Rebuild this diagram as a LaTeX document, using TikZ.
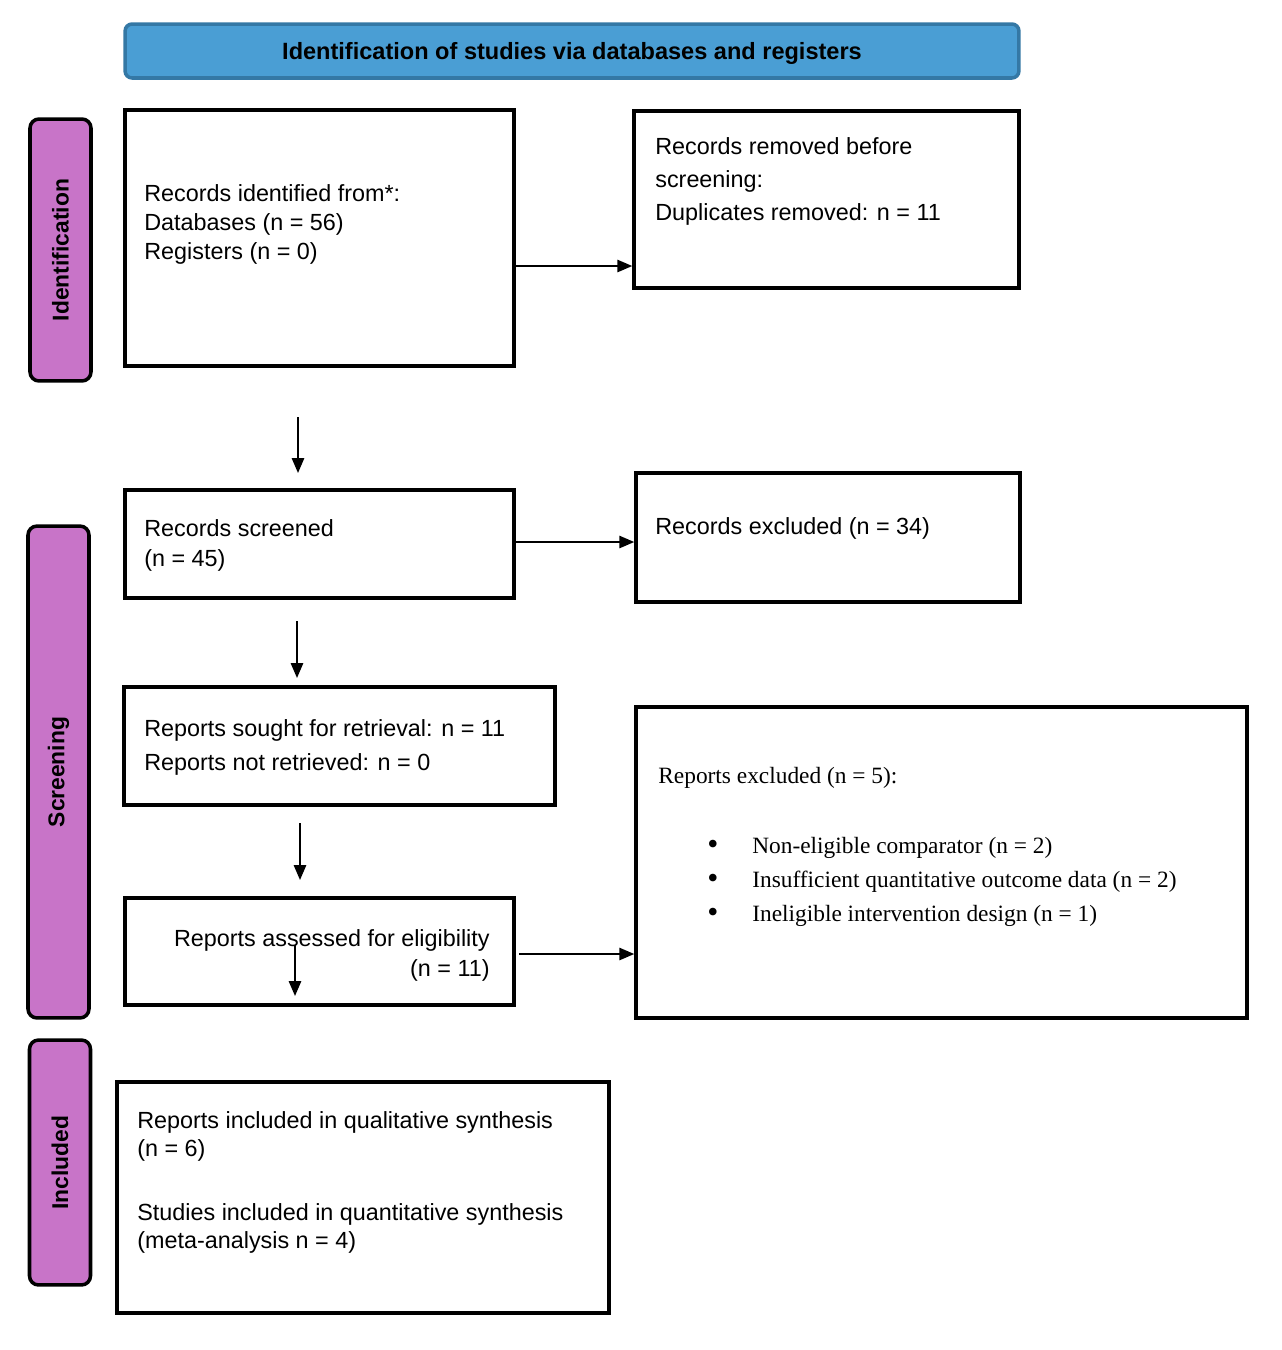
\documentclass[tikz,border=0pt]{standalone}
\usepackage{fontspec}
\setmainfont{Liberation Serif}
\setsansfont{Liberation Sans}
\usetikzlibrary{fit}
\usetikzlibrary{arrows.meta}

\definecolor{barblue}{RGB}{74,158,212}
\definecolor{barrim}{RGB}{52,120,165}
\definecolor{stagepink}{RGB}{200,116,200}
\newcommand{\reasonbul}{\makebox[0.9cm][l]{\raisebox{-0.1ex}{\fontsize{18}{19}\selectfont\textbullet}}}

\begin{document}
\begin{tikzpicture}[x=0.02cm,y=-0.02cm,
 box/.style={draw=black,line width=2pt,inner sep=0pt},
 stage/.style={draw=black,fill=stagepink,line width=2pt,rounded corners=0.18cm,rotate=90,minimum height=1.22cm,inner sep=0pt,font=\sffamily\bfseries\fontsize{13}{15}\selectfont},
 arr/.style={line width=1.1pt,-{Triangle[length=8.5pt,width=7pt]}},
 txt/.style={inner sep=0pt,align=left,font=\sffamily\fontsize{13.3}{16.5}\selectfont},
 rtxt/.style={inner sep=0pt,align=left,font=\rmfamily\fontsize{13.3}{19.3}\selectfont}]
 \useasboundingbox (0,0) rectangle (1282,1350);
 \node[draw=barrim,fill=barblue,line width=2pt,rounded corners=0.14cm,minimum width=17.88cm,minimum height=1.08cm,text depth=0pt,font=\sffamily\bfseries\fontsize{13.4}{15}\selectfont] (title) at (572,51) {Identification of studies via databases and registers};

 \node[stage,minimum width=5.24cm] (stident) at (60.5,250) {Identification};
 \node[stage,minimum width=9.84cm] (stscreen) at (58.5,772) {Screening};
 \node[stage,minimum width=4.9cm] (stincl) at (60,1162.5) {Included};

 \node[box,fit={(125,110) (514,366)}] (ident) {};
 \node[box,fit={(634,111) (1019,288)}] (removed) {};
 \node[box,fit={(125,490) (514,598)}] (screened) {};
 \node[box,fit={(636,473) (1020,602)}] (recexcl) {};
 \node[box,fit={(124,687) (555,805)}] (sought) {};
 \node[box,fit={(125,898) (514,1005)}] (assessed) {};
 \node[box,fit={(636,707) (1247,1018)}] (repexcl) {};
 \node[box,fit={(117,1082) (609,1313)}] (incl) {};

 \node[txt,anchor=base west] (identtxt) at (144,259) {Records identified from*:\\Databases (n = 56)\\Registers (n = 0)};
 \node[txt,anchor=base west,font=\sffamily\fontsize{13.3}{18.7}\selectfont] (removedtxt) at (655,220) {Records removed before\\screening:\\Duplicates removed: n = 11};
 \node[txt,anchor=base west,font=\sffamily\fontsize{13.3}{17}\selectfont] (screenedtxt) at (144,566) {Records screened\\(n = 45)};
 \node[txt,anchor=base west] (recexcltxt) at (655,534) {Records excluded (n = 34)};
 \node[txt,anchor=base west,font=\sffamily\fontsize{13.3}{19.3}\selectfont] (soughttxt) at (144,770) {Reports sought for retrieval: n = 11\\Reports not retrieved: n = 0};
 \node[txt,anchor=base east,align=right,font=\sffamily\fontsize{13.3}{17}\selectfont] (assessedtxt) at (490,976) {Reports assessed for eligibility\\(n = 11)};
 \node[rtxt,anchor=base west] (repexcltxt) at (658,783) {Reports excluded (n = 5):};
 \node[rtxt,anchor=base west] (reasons) at (707,921) {\reasonbul Non-eligible comparator (n = 2)\\\reasonbul Insufficient quantitative outcome data (n = 2)\\\reasonbul Ineligible intervention design (n = 1)};
 \node[txt,anchor=base west,font=\sffamily\fontsize{13.3}{15.9}\selectfont] (incltxt) at (137,1248) {Reports included in qualitative synthesis\\(n = 6)\\[20.4pt]Studies included in quantitative synthesis\\(meta-analysis n = 4)};

 \coordinate (r1) at (514,266);
 \coordinate (r2) at (514,542);
 \coordinate (r3) at (519,954);
 \draw[arr] (r1) -- (r1 -| removed.west);
 \draw[arr] (r2) -- (r2 -| recexcl.west);
 \draw[arr] (r3) -- (r3 -| repexcl.west);

 \coordinate (d1) at (298,417);
 \coordinate (d2) at (297,621);
 \coordinate (d3) at (300,823);
 \coordinate (d4) at (295,945);
 \draw[arr] (d1) -- ++(0,56);
 \draw[arr] (d2) -- ++(0,57);
 \draw[arr] (d3) -- ++(0,57);
 \draw[arr] (d4) -- ++(0,51);
\end{tikzpicture}
\end{document}
